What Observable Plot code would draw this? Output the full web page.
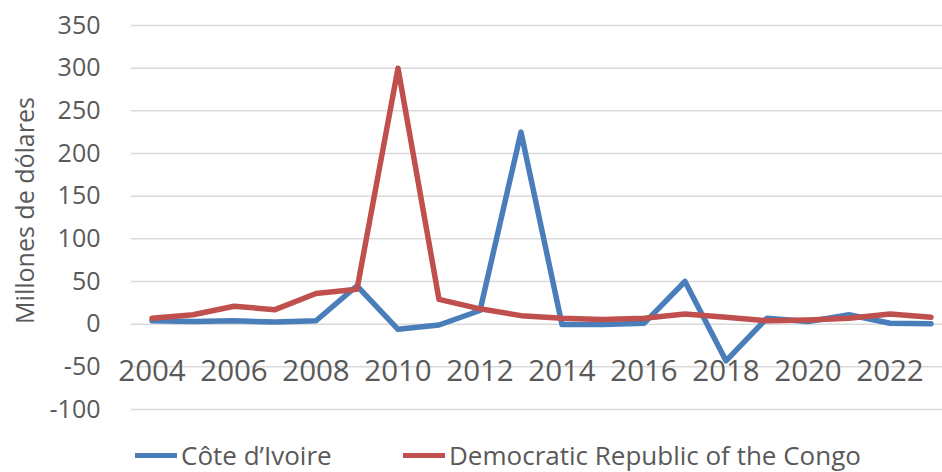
<!DOCTYPE html>
<html>
<head>
<meta charset="utf-8">
<script src="https://cdn.jsdelivr.net/npm/d3@7"></script>
<script src="https://cdn.jsdelivr.net/npm/@observablehq/plot@0.6"></script>
<style>
  html, body { margin: 0; padding: 0; background: #fff; }
  #wrap { width: 942px; height: 472px; position: relative; overflow: hidden; font-family: "Open Sans", sans-serif; }
  #legend { position: relative; height: 42px; }
  .item { position: absolute; top: 13px; height: 24px; line-height: 24px; display: flex; align-items: center; color: #595959; font-size: 26px; white-space: nowrap; }
  .sw { display: inline-block; width: 42px; height: 5px; margin-right: 4px; }
</style>
</head>
<body>
<div id="wrap">
  <div id="chart"></div>
  <div id="legend"></div>
</div>
<script>
const years = [2004, 2005, 2006, 2007, 2008, 2009, 2010, 2011, 2012, 2013, 2014, 2015, 2016, 2017, 2018, 2019, 2020, 2021, 2022, 2023];
const coteDivoire = [4, 3, 4, 2.5, 4, 45, -6, -1, 16, 225, -0.5, -0.5, 1, 50, -43, 7, 3, 11, 1, 0.5];
const drCongo = [7, 11, 21, 17, 36, 41, 300, 29, 18, 10, 7, 5.5, 7, 12, 8, 4, 5, 7, 12, 8];
const seriesNames = ["Côte d’Ivoire", "Democratic Republic of the Congo"];
const seriesColors = ["#4a7ebb", "#c0504d"];
const yTicks = [-100, -50, 0, 50, 100, 150, 200, 250, 300, 350];
const xTickLabels = [2004, 2006, 2008, 2010, 2012, 2014, 2016, 2018, 2020, 2022];
const yTitle = "Millones de dólares";

const rows = [];
years.forEach((yr, i) => {
  rows.push({year: yr, value: coteDivoire[i], series: seriesNames[0]});
  rows.push({year: yr, value: drCongo[i], series: seriesNames[1]});
});

const textColor = "#595959";
const chart = Plot.plot({
  width: 942,
  height: 430,
  marginTop: 25,
  marginBottom: 21,
  marginLeft: 131,
  marginRight: 0,
  style: {fontFamily: "'Open Sans', sans-serif", color: textColor, background: "#fff"},
  x: {type: "linear", domain: [2003.5, 2023.5], range: [131, 951], axis: null},
  y: {domain: [-100, 350], axis: null},
  color: {domain: seriesNames, range: seriesColors},
  marks: [
    Plot.gridY(yTicks, {stroke: "#d9d9d9", strokeOpacity: 1, strokeWidth: 1.5}),
    Plot.axisY(yTicks, {tickSize: 0, tickPadding: 31, fontSize: 25, fill: textColor, label: null, tickFormat: d => String(d)}),
    Plot.text(xTickLabels, {x: d => d, y: () => 0, dy: 47, text: d => String(d), fontSize: 29.5, fill: textColor, textAnchor: "middle"}),
    Plot.text([yTitle], {frameAnchor: "left", textAnchor: "middle", dx: -106, dy: -7, rotate: -90, fontSize: 25, fill: textColor, text: d => d}),
    Plot.lineY(rows, {x: "year", y: "value", z: "series", stroke: "series", strokeWidth: 5.5, strokeLinejoin: "round", strokeLinecap: "round"})
  ]
});
document.getElementById("chart").appendChild(chart);

const legend = document.getElementById("legend");
const lefts = [135, 403];
seriesNames.forEach((name, i) => {
  const it = document.createElement("div");
  it.className = "item";
  it.style.left = lefts[i] + "px";
  const sw = document.createElement("span");
  sw.className = "sw";
  sw.style.background = seriesColors[i];
  it.appendChild(sw);
  it.appendChild(document.createTextNode(name));
  legend.appendChild(it);
});
</script>
</body>
</html>
